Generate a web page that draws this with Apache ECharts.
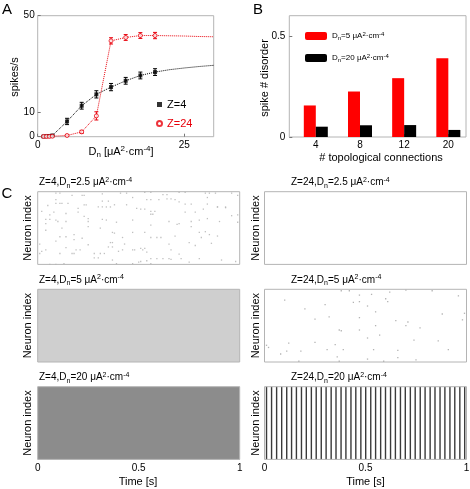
<!DOCTYPE html>
<html><head><meta charset="utf-8">
<script src="https://cdn.jsdelivr.net/npm/echarts@6/dist/echarts.min.js"></script>
<style>html,body{margin:0;padding:0;background:#fff}#c{width:470px;height:489px}</style>
</head><body><div id="c"></div><script>
// ---------- Panel A data ----------
const dnValues = [1, 1.5, 2, 2.5, 5, 7.5, 10, 12.5, 15, 17.5, 20];
const rateZ4   = [0.1, 0.2, 0.3, 0.5, 6.3, 12.8, 17.5, 20.5, 23.1, 25.3, 26.7];
const errZ4    = [0.2, 0.2, 0.3, 0.3, 1.3, 1.4, 1.5, 1.5, 1.4, 1.4, 1.4];
const rateZ24  = [0.1, 0.1, 0.1, 0.2, 0.5, 2.0, 8.6, 39.6, 41.0, 41.8, 41.8];
const errZ24   = [0.2, 0.2, 0.2, 0.2, 0.3, 0.6, 1.7, 1.3, 1.2, 1.2, 1.3];
const fitDn    = [20, 22.5, 25, 27.5, 30];
const fitZ4    = [26.7, 27.7, 28.4, 29.0, 29.5];
const fitZ24   = [41.8, 41.7, 41.6, 41.4, 41.3];
const aXTicks  = [0, 25];
const aYTicks  = [0, 10, 50];
// ---------- Panel B data ----------
const topoCats    = ['4', '8', '12', '20'];
const disorderD5  = [0.156, 0.225, 0.291, 0.390];
const disorderD20 = [0.051, 0.058, 0.059, 0.035];
const bYTicks     = [0, 0.5];
// ---------- Panel C data (time [s], neuron index 0-100) ----------
const spikesZ4D25 = [
[0.09,98],[0.11,98],[0.17,95],[0.22,95],[0.23,95],[0.32,97],[0.41,98],[0.44,98],[0.53,99],[0.56,99],[0.62,96],[0.64,96],[0.70,99],[0.73,99],[0.83,98],[0.85,98],[0.88,98],[0.96,98],
[0.09,89],[0.09,84],[0.11,84],[0.12,84],[0.15,84],[0.23,82],[0.24,82],[0.32,87],[0.35,87],[0.44,82],[0.47,92],[0.54,89],[0.56,89],[0.60,89],[0.64,90],[0.66,90],[0.68,89],[0.70,86],[0.73,83],[0.76,83],[0.84,92],[0.84,83],[0.89,79],[0.93,79],[0.99,95],
[0.02,73],[0.05,81],[0.08,72],[0.06,68],[0.14,70],[0.20,72],[0.20,77],[0.23,66],[0.25,63],[0.30,79],[0.32,79],[0.34,79],[0.36,79],[0.38,82],[0.49,77],[0.51,76],[0.53,76],[0.56,73],[0.58,73],[0.56,69],[0.57,69],[0.73,72],[0.78,72],[0.82,76],[0.89,79],[0.93,78],[0.96,67],[0.99,68],
[0.04,62],[0.06,62],[0.09,61],[0.10,59],[0.14,59],[0.04,56],[0.25,59],[0.32,62],[0.34,61],[0.39,58],[0.47,61],[0.56,54],[0.65,59],[0.69,55],[0.70,56],[0.76,59],[0.80,61],[0.84,63],[0.90,59],[0.99,58],
[0.04,47],[0.12,50],[0.18,41],[0.25,52],[0.31,50],[0.37,44],[0.38,43],[0.42,37],[0.47,44],[0.53,44],[0.56,37],[0.59,37],[0.61,37],[0.68,39],[0.76,52],[0.80,44],[0.83,45],[0.85,41],[0.89,39],[0.81,37],[0.11,38],[0.14,38],[0.22,36],
[0.09,32],[0.18,34],[0.25,27],[0.36,30],[0.37,30],[0.35,24],[0.37,24],[0.43,28],[0.48,20],[0.51,22],[0.52,20],[0.53,22],[0.47,20],[0.40,18],[0.42,20],[0.75,30],[0.78,26],[0.86,29],[0.01,28],[0.02,18],[0.04,20],[0.14,23],[0.19,20],[0.21,20],[0.65,28],[0.66,20],[0.70,14],
[0.01,15],[0.11,15],[0.17,15],[0.18,15],[0.28,15],[0.31,15],[0.33,15],[0.54,17],[0.56,8],[0.59,8],[0.62,8],[0.65,8],[0.66,7],[0.71,8],[0.28,9],[0.30,9],[0.37,6],[0.39,1],[0.47,1],[0.50,3],[0.51,4],[0.54,5],[0.56,1],[0.75,3],[0.80,8],[0.91,6],[0.98,4],[0.06,0],[0.09,0],[0.13,1]
];
const spikesZ24D25 = [];
const spikesZ24D5 = [
[0.38,98],[0.42,98],[0.47,92],[0.53,93],[0.62,96],[0.70,99],[0.83,98],[0.96,91],[0.10,85],[0.30,79],[0.44,82],[0.47,83],[0.60,87],[0.61,83],[0.51,77],[0.20,73],[0.55,69],[0.99,67],[0.32,62],[0.47,61],[0.25,59],[0.88,66],[0.65,57],[0.71,55],[0.98,58],[0.55,50],[0.70,50],[0.77,47],[0.37,44],[0.38,43],[0.47,44],[0.57,37],[0.51,33],[0.74,30],[0.86,29],[0.25,27],[0.35,24],[0.01,23],[0.02,20],[0.12,26],[0.39,17],[0.54,17],[0.31,17],[0.11,15],[0.18,15],[0.66,16],[0.91,17],[0.08,11],[0.36,7],[0.51,4],[0.66,6],[0.75,3],[0.17,1],[0.37,1],[0.59,1]
];
// fraction of raster area covered by spikes (whole 1 s window)
const densityZ4D5  = [0.19];
const densityZ4D20 = [0.45];
const burstTimesZ24D20 = [0.010,0.035,0.060,0.085,0.110,0.134,0.158,0.183,0.207,0.232,0.256,0.281,0.305,0.330,0.354,0.379,0.403,0.428,0.452,0.477,0.501,0.526,0.550,0.575,0.599,0.624,0.648,0.673,0.697,0.722,0.746,0.771,0.795,0.820,0.844,0.869,0.893,0.918,0.942,0.967,0.991];
const timeTicks = [0, 0.5, 1];

const FONT = 'Liberation Sans, Arial, Helvetica, sans-serif';
function richText(str, size, color) {
  const parts = str.split(/(_\{[^}]*\}|\^\{[^}]*\})/).filter(s => s.length);
  let txt = '';
  parts.forEach(p => {
    if (p.startsWith('_{')) txt += '{b|' + p.slice(2, -1) + '}';
    else if (p.startsWith('^{')) txt += '{p|' + p.slice(2, -1) + '}';
    else txt += '{m|' + p + '}';
  });
  const small = Math.round(size * 0.72);
  return {
    text: txt,
    rich: {
      m: {fontSize: size, fontFamily: FONT, fill: color || '#000', color: color || '#000'},
      b: {fontSize: small, fontFamily: FONT, fill: color || '#000', color: color || '#000', padding: [Math.round(size * 0.55), 0, 0, 0]},
      p: {fontSize: small, fontFamily: FONT, fill: color || '#000', color: color || '#000', padding: [0, 0, Math.round(size * 0.55), 0]}
    }
  };
}
function gText(x, y, str, size, opts) {
  opts = opts || {};
  const r = richText(str, size, opts.color);
  return {
    type: 'text', x: x, y: y, rotation: opts.rot || 0,
    style: {text: r.text, rich: r.rich, fontSize: size, fontFamily: FONT, fill: opts.color || '#000',
      align: opts.align || 'center', verticalAlign: 'middle'}
  };
}

const BOX = '#b4b4b4';
const rasterRows = [191.7, 289.3, 386.7];
const rasterCols = [37.7, 264.5];
const RW = 202, RH = 72.7;
const grids = [
  {left: 37.7, top: 15.7, width: 176, height: 121, show: true, borderColor: BOX, borderWidth: 1, containLabel: false, outerBoundsMode: 'none'},
  {left: 289.3, top: 15.7, width: 176.7, height: 121.3, show: true, borderColor: BOX, borderWidth: 1, containLabel: false, outerBoundsMode: 'none'}
];
rasterRows.forEach(t => rasterCols.forEach(l => grids.push({left: l, top: t, width: RW, height: RH, show: true, borderColor: BOX, borderWidth: 1, containLabel: false, outerBoundsMode: 'none', z: 5})));

const tickLabel = {fontSize: 10, fontFamily: FONT, color: '#000'};
const xAxes = [
  {gridIndex: 0, type: 'value', min: 0, max: 30, axisLine: {show: false}, splitLine: {show: false},
   axisTick: {show: true, inside: true, length: 3, lineStyle: {color: '#777'}, customValues: aXTicks},
   axisLabel: Object.assign({margin: 4, customValues: aXTicks}, tickLabel)},
  {gridIndex: 1, type: 'value', min: 0.4, max: 4.4, axisLine: {show: false}, splitLine: {show: false},
   axisTick: {show: true, inside: true, length: 3, lineStyle: {color: '#777'}, customValues: [1, 2, 3, 4]},
   axisLabel: Object.assign({margin: 3, customValues: [1, 2, 3, 4], formatter: v => topoCats[Math.round(v) - 1]}, tickLabel)}
];
const yAxes = [
  {gridIndex: 0, type: 'value', min: 0, max: 50, axisLine: {show: false}, splitLine: {show: false},
   axisTick: {show: true, inside: true, length: 3, lineStyle: {color: '#777'}, customValues: aYTicks},
   axisLabel: Object.assign({margin: 3, customValues: aYTicks}, tickLabel)},
  {gridIndex: 1, type: 'value', min: 0, max: 0.6, axisLine: {show: false}, splitLine: {show: false},
   axisTick: {show: true, inside: true, length: 3, lineStyle: {color: '#777'}, customValues: bYTicks},
   axisLabel: Object.assign({margin: 4, customValues: bYTicks}, tickLabel)}
];
for (let i = 0; i < 6; i++) {
  const bottom = i >= 4;
  xAxes.push({gridIndex: 2 + i, type: 'value', min: 0, max: 1, axisLine: {show: false}, splitLine: {show: false},
    axisTick: {show: false},
    axisLabel: bottom ? Object.assign({margin: 4, customValues: timeTicks, formatter: v => String(v)}, tickLabel) : {show: false}});
  yAxes.push({gridIndex: 2 + i, type: 'value', min: 0, max: 100, axisLine: {show: false}, splitLine: {show: false},
    axisTick: {show: false}, axisLabel: {show: false}});
}

function errSeries(name, xs, ys, es, color, axisIdx) {
  return {
    type: 'custom', name: name, xAxisIndex: axisIdx, yAxisIndex: axisIdx, z: 3,
    data: xs.map((x, i) => [x, ys[i] - es[i], ys[i] + es[i]]),
    renderItem: (params, api) => {
      const lo = api.coord([api.value(0), api.value(1)]);
      const hi = api.coord([api.value(0), api.value(2)]);
      const c = 2;
      return {type: 'group', children: [
        {type: 'line', shape: {x1: lo[0], y1: lo[1], x2: hi[0], y2: hi[1]}, style: {stroke: color, lineWidth: 1}},
        {type: 'line', shape: {x1: lo[0] - c, y1: lo[1], x2: lo[0] + c, y2: lo[1]}, style: {stroke: color, lineWidth: 1}},
        {type: 'line', shape: {x1: hi[0] - c, y1: hi[1], x2: hi[0] + c, y2: hi[1]}, style: {stroke: color, lineWidth: 1}}
      ]};
    }
  };
}
const zip = (a, b) => a.map((v, i) => [v, b[i]]);
const RED = '#e8000b';

const series = [
  {type: 'line', name: 'fit4', xAxisIndex: 0, yAxisIndex: 0, symbol: 'none', z: 2,
   data: zip(dnValues, rateZ4).concat(zip(fitDn.slice(1), fitZ4.slice(1))),
   lineStyle: {color: '#000', width: 1, type: 'dotted'}},
  {type: 'line', name: 'fit24', xAxisIndex: 0, yAxisIndex: 0, symbol: 'none', z: 2,
   data: zip(dnValues, rateZ24).concat(zip(fitDn.slice(1), fitZ24.slice(1))),
   lineStyle: {color: RED, width: 1, type: 'dotted'}},
  errSeries('e4', dnValues, rateZ4, errZ4, '#000', 0),
  errSeries('e24', dnValues, rateZ24, errZ24, RED, 0),
  {type: 'scatter', name: 'Z=4', xAxisIndex: 0, yAxisIndex: 0, symbol: 'rect', symbolSize: 4, z: 4,
   data: zip(dnValues, rateZ4), itemStyle: {color: '#000'}},
  {type: 'scatter', name: 'Z=24', xAxisIndex: 0, yAxisIndex: 0, symbol: 'circle', symbolSize: 4, z: 4,
   data: zip(dnValues, rateZ24), itemStyle: {color: '#fff', borderColor: RED, borderWidth: 1}},
  {type: 'bar', name: 'D5', xAxisIndex: 1, yAxisIndex: 1, barWidth: 12, barGap: '0%',
   data: disorderD5.map((v, i) => [i + 1, v]), itemStyle: {color: '#ff0000'}},
  {type: 'bar', name: 'D20', xAxisIndex: 1, yAxisIndex: 1, barWidth: 12, barGap: '0%',
   data: disorderD20.map((v, i) => [i + 1, v]), itemStyle: {color: '#000'}}
];

function spikeSeries(idx, pts, color) {
  return {type: 'scatter', xAxisIndex: idx, yAxisIndex: idx, symbol: 'rect', symbolSize: 1.3, silent: true,
    data: pts, itemStyle: {color: color}};
}
function densitySeries(idx, dens) {
  return {type: 'custom', xAxisIndex: idx, yAxisIndex: idx, silent: true,
    data: dens.map((d, i) => [i / dens.length, (i + 1) / dens.length, d]),
    renderItem: (params, api) => {
      const p0 = api.coord([api.value(0), 100]);
      const p1 = api.coord([api.value(1), 0]);
      const g = Math.round(255 * (1 - api.value(2)));
      return {type: 'rect', shape: {x: p0[0], y: p0[1], width: p1[0] - p0[0], height: p1[1] - p0[1]},
        style: {fill: 'rgb(' + g + ',' + g + ',' + g + ')'}};
    }};
}
function burstSeries(idx, times) {
  return {type: 'custom', xAxisIndex: idx, yAxisIndex: idx, silent: true,
    data: times.map(t => [t]),
    renderItem: (params, api) => {
      const p0 = api.coord([api.value(0), 100]);
      const p1 = api.coord([api.value(0), 0]);
      return {type: 'line', shape: {x1: p0[0], y1: p0[1], x2: p1[0], y2: p1[1]},
        style: {stroke: '#3a3a3a', lineWidth: 1.4}};
    }};
}
series.push(spikeSeries(2, spikesZ4D25, '#b0b0b0'));
series.push(spikeSeries(3, spikesZ24D25, '#a0a0a0'));
series.push(densitySeries(4, densityZ4D5));
series.push(spikeSeries(5, spikesZ24D5, '#a0a0a0'));
series.push(densitySeries(6, densityZ4D20));
series.push(burstSeries(7, burstTimesZ24D20));

const legendRich = richText('D_{n}=5 μA^{2}·cm^{-4}', 8);
const graphics = [
  gText(7, 10, 'A', 15), gText(258, 10, 'B', 15), gText(7, 194, 'C', 15),
  gText(15, 77, 'spikes/s', 11, {rot: Math.PI / 2}),
  gText(121, 152, 'D_{n} [μA^{2}·cm^{-4}]', 11),
  gText(265, 78, 'spike # disorder', 11, {rot: Math.PI / 2}),
  gText(381, 158, '# topological connections', 11)
];
const rasterTitles = [
  ['Z=4,D_{n}=2.5 μA^{2}·cm^{-4}', 'Z=24,D_{n}=2.5 μA^{2}·cm^{-4}'],
  ['Z=4,D_{n}=5 μA^{2}·cm^{-4}', 'Z=24,D_{n}=5 μA^{2}·cm^{-4}'],
  ['Z=4,D_{n}=20 μA^{2}·cm^{-4}', 'Z=24,D_{n}=20 μA^{2}·cm^{-4}']
];
const titleX = [39, 291];
rasterRows.forEach((t, r) => {
  [0, 1].forEach(c => {
    graphics.push(gText(titleX[c], t - 9, rasterTitles[r][c], 10, {align: 'left'}));
    graphics.push(gText(c === 0 ? 28 : 256, t + RH / 2, 'Neuron index', 11, {rot: Math.PI / 2}));
  });
});
graphics.push(gText(138, 482, 'Time [s]', 11));
graphics.push(gText(365.5, 482, 'Time [s]', 11));

const option = {
  animation: false,
  backgroundColor: '#fff',
  grid: grids, xAxis: xAxes, yAxis: yAxes, series: series,
  legend: [
    {left: 151, top: 94, orient: 'vertical', itemWidth: 5, itemHeight: 5, itemGap: 8,
     data: [{name: 'Z=4', textStyle: {color: '#000'}}, {name: 'Z=24', textStyle: {color: RED}}],
     textStyle: {fontSize: 11, fontFamily: FONT}},
    {left: 300, top: 26, orient: 'vertical', itemWidth: 22, itemHeight: 8, itemGap: 12,
     data: ['D5', 'D20'],
     formatter: n => n === 'D5' ? legendRich.text : richText('D_{n}=20 μA^{2}·cm^{-4}', 8).text,
     textStyle: {fontSize: 8, fontFamily: FONT, rich: legendRich.rich}}
  ],
  graphic: graphics
};
const chart = echarts.init(document.getElementById('c'), null, {renderer: 'canvas'});
chart.setOption(option);
</script></body></html>
